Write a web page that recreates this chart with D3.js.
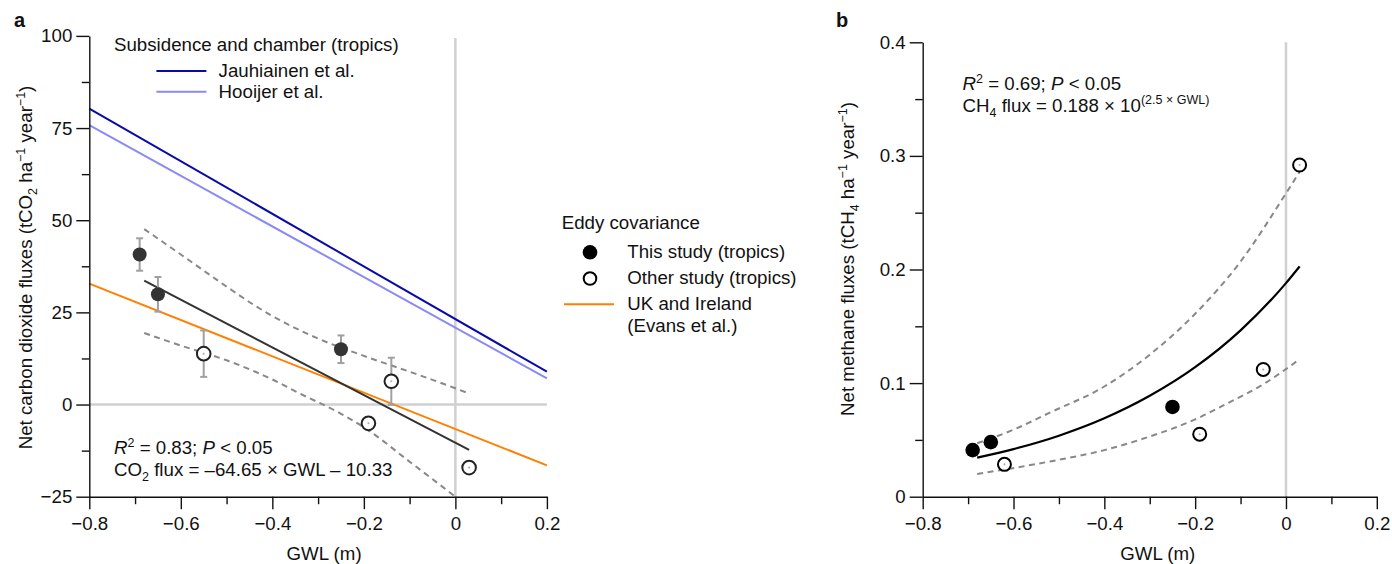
<!DOCTYPE html>
<html>
<head>
<meta charset="utf-8">
<script src="https://cdn.jsdelivr.net/npm/d3@7"></script>
<style>
  body { margin: 0; background: #fff; }
  svg text { font-family: "Liberation Sans", Arial, Helvetica, sans-serif; fill: #111; }
</style>
</head>
<body>
<svg id="chart" width="1392" height="564"></svg>
<script>
// ---- data ----
const gwlTicks = [-0.8, -0.6, -0.4, -0.2, 0, 0.2]
const gwlMinor = [-0.7, -0.5, -0.3, -0.1, 0.1]
const co2Ticks = [-25, 0, 25, 50, 75, 100]
const co2Minor = [-12.5, 12.5, 37.5, 62.5, 87.5]
const ch4Ticks = [0, 0.1, 0.2, 0.3, 0.4]
const ch4Minor = [0.05, 0.15, 0.25, 0.35]

// panel a: eddy covariance points
const co2ThisGwl = [-0.69, -0.65, -0.25]
const co2ThisFlux = [40.7, 29.9, 15.0]
const co2ThisErr = [4.4, 4.7, 3.75]
const co2OtherGwl = [-0.55, -0.14, -0.19, 0.03]
const co2OtherFlux = [13.8, 6.3, -5.1, -17.1]
const co2OtherErr = [6.3, 6.4, 0, 1.3]

// panel a: reference lines (end points at axis limits)
const refGwl = [-0.8, 0.2]
const jauhiainenFlux = [80.3, 8.9]
const hooijerFlux = [75.8, 7.1]
const evansFlux = [32.8, -16.5]

// panel a: regression and confidence band
const co2FitGwl = [-0.68, 0.03]
const co2FitFlux = [33.6, -12.3]
const co2UpperGwl = [-0.68, -0.6, -0.5, -0.44, -0.37, -0.3, -0.2, -0.1, -0.05, 0.03]
const co2UpperFlux = [47.6, 40.7, 32.0, 27.0, 22.0, 17.9, 13.2, 8.9, 6.7, 3.0]
const co2LowerGwl = [-0.68, -0.6, -0.5, -0.4, -0.34, -0.25, -0.19, -0.1, 0.0]
const co2LowerFlux = [19.4, 16.0, 12.0, 6.8, 3.0, -2.5, -7.0, -15.5, -25.0]

// panel b: points
const ch4ThisGwl = [-0.69, -0.65, -0.25]
const ch4ThisFlux = [0.041, 0.048, 0.079]
const ch4OtherGwl = [-0.62, -0.19, -0.05, 0.03]
const ch4OtherFlux = [0.0285, 0.055, 0.112, 0.292]

// panel b: fitted curve and band
const ch4FitGwl = [-0.68, -0.6, -0.5, -0.4, -0.3, -0.2, -0.1, 0, 0.03]
const ch4FitFlux = [0.0344, 0.0419, 0.0537, 0.069, 0.0888, 0.114, 0.1464, 0.188, 0.2027]
const ch4UpperGwl = [-0.68, -0.6, -0.52, -0.4, -0.3, -0.2, -0.1, 0, 0.03]
const ch4UpperFlux = [0.047, 0.059, 0.074, 0.097, 0.125, 0.161, 0.207, 0.267, 0.286]
const ch4LowerGwl = [-0.68, -0.52, -0.4, -0.3, -0.2, -0.13, -0.05, 0.03]
const ch4LowerFlux = [0.020, 0.031, 0.041, 0.053, 0.068, 0.082, 0.099, 0.121]

const zip = (xs, ys, es) => xs.map((x, i) => ({x: x, y: ys[i], e: es ? es[i] : 0}))

const svg = d3.select("#chart")
const FS = 18.7

const fmtGwl = d => d === 0 ? "0" : d3.format(".1f")(d)

// rich text helper: parts = [[text, kind]] kind: sup | sub | i | smallsup
function richText(sel, parts) {
    let shift = 0
    parts.forEach(([t, kind]) => {
        const ts = sel.append("tspan").text(t)
        let target = 0
        if (kind === "sup") target = -7
        if (kind === "smallsup") target = -8
        if (kind === "sub") target = 5
        ts.attr("dy", target - shift)
        shift = target
        if (kind === "sup" || kind === "sub") ts.attr("font-size", 12.5)
        if (kind === "smallsup") ts.attr("font-size", 12.5)
        if (kind === "i") ts.attr("font-style", "italic")
    })
}

function drawAxes(g, x, y, yTicks, yMinor, yFmt) {
    const xAxis = g.append("g").attr("transform", `translate(0,${y.range()[0]})`)
        .call(d3.axisBottom(x).tickValues(gwlTicks).tickSize(12.5).tickSizeOuter(0).tickPadding(8).tickFormat(fmtGwl))
    g.append("g").attr("transform", `translate(0,${y.range()[0]})`)
        .call(d3.axisBottom(x).tickValues(gwlMinor).tickSize(7.5).tickSizeOuter(0).tickFormat(""))
        .select(".domain").remove()
    const yAxis = g.append("g").attr("transform", `translate(${x.range()[0]},0)`)
        .call(d3.axisLeft(y).tickValues(yTicks).tickSize(13).tickSizeOuter(0).tickPadding(4).tickFormat(yFmt))
    g.append("g").attr("transform", `translate(${x.range()[0]},0)`)
        .call(d3.axisLeft(y).tickValues(yMinor).tickSize(7.5).tickSizeOuter(0).tickFormat(""))
        .select(".domain").remove()
    g.selectAll(".domain, .tick line").attr("stroke", "#111").attr("stroke-width", 1.4)
    g.selectAll(".tick text").attr("font-size", FS).attr("fill", "#111")
    xAxis.selectAll(".tick text").attr("dy", "0.71em")
}

// ================= panel a =================
const xa = d3.scaleLinear().domain([-0.8, 0.2]).range([89.3, 546.9])
const ya = d3.scaleLinear().domain([-25, 100]).range([496.7, 35.9])
const ga = svg.append("g")

// zero reference lines
ga.append("line").attr("x1", xa(0)).attr("x2", xa(0)).attr("y1", ya(100) + 2).attr("y2", ya(-25))
    .attr("stroke", "#d0d0d0").attr("stroke-width", 2.5)
ga.append("line").attr("x1", xa(-0.8)).attr("x2", xa(0.2)).attr("y1", ya(0)).attr("y2", ya(0))
    .attr("stroke", "#d0d0d0").attr("stroke-width", 2.5)

const lineA = d3.line().x(d => xa(d.x)).y(d => ya(d.y))
const smoothA = d3.line().x(d => xa(d.x)).y(d => ya(d.y)).curve(d3.curveMonotoneX)

ga.append("path").datum(zip(refGwl, hooijerFlux)).attr("d", lineA)
    .attr("fill", "none").attr("stroke", "#8a8af3").attr("stroke-width", 2)
ga.append("path").datum(zip(refGwl, jauhiainenFlux)).attr("d", lineA)
    .attr("fill", "none").attr("stroke", "#0a0aa8").attr("stroke-width", 2)
ga.append("path").datum(zip(refGwl, evansFlux)).attr("d", lineA)
    .attr("fill", "none").attr("stroke", "#ff8000").attr("stroke-width", 2)

ga.selectAll(".band").data([zip(co2UpperGwl, co2UpperFlux), zip(co2LowerGwl, co2LowerFlux)])
    .join("path").attr("class", "band").attr("d", smoothA)
    .attr("fill", "none").attr("stroke", "#888").attr("stroke-width", 2).attr("stroke-dasharray", "6,4.5")
ga.append("path").datum(zip(co2FitGwl, co2FitFlux)).attr("d", lineA)
    .attr("fill", "none").attr("stroke", "#333").attr("stroke-width", 2)

// error bars
const allCo2 = zip(co2ThisGwl, co2ThisFlux, co2ThisErr).concat(zip(co2OtherGwl, co2OtherFlux, co2OtherErr))
const eb = ga.selectAll(".eb").data(allCo2.filter(d => d.e > 0)).join("g").attr("class", "eb")
    .attr("stroke", "#a0a0a0").attr("stroke-width", 2)
eb.append("line").attr("x1", d => xa(d.x)).attr("x2", d => xa(d.x)).attr("y1", d => ya(d.y + d.e)).attr("y2", d => ya(d.y - d.e))
eb.append("line").attr("x1", d => xa(d.x) - 3.5).attr("x2", d => xa(d.x) + 3.5).attr("y1", d => ya(d.y + d.e)).attr("y2", d => ya(d.y + d.e))
eb.append("line").attr("x1", d => xa(d.x) - 3.5).attr("x2", d => xa(d.x) + 3.5).attr("y1", d => ya(d.y - d.e)).attr("y2", d => ya(d.y - d.e))

ga.selectAll(".pf").data(zip(co2ThisGwl, co2ThisFlux)).join("circle").attr("class", "pf")
    .attr("cx", d => xa(d.x)).attr("cy", d => ya(d.y)).attr("r", 7).attr("fill", "#333")
ga.selectAll(".po").data(zip(co2OtherGwl, co2OtherFlux)).join("circle").attr("class", "po")
    .attr("cx", d => xa(d.x)).attr("cy", d => ya(d.y)).attr("r", 6.8)
    .attr("fill", "#fff").attr("stroke", "#222").attr("stroke-width", 2)
ga.selectAll(".pc").data(zip(co2OtherGwl, co2OtherFlux)).join("circle").attr("class", "pc")
    .attr("cx", d => xa(d.x)).attr("cy", d => ya(d.y)).attr("r", 1).attr("fill", "#aaa")

drawAxes(ga, xa, ya, co2Ticks, co2Minor, d3.format("d"))

ga.append("text").attr("x", 14).attr("y", 27).attr("font-size", 20).attr("font-weight", "bold").text("a")
ga.append("text").attr("x", (xa(-0.8) + xa(0.2)) / 2 + 6).attr("y", 560).attr("text-anchor", "middle")
    .attr("font-size", FS).text("GWL (m)")
richText(ga.append("text").attr("transform", "translate(32,267.5) rotate(-90)").attr("text-anchor", "middle").attr("font-size", FS),
    [["Net carbon dioxide fluxes (tCO"], ["2", "sub"], [" ha"], ["−1", "sup"], [" year"], ["−1", "sup"], [")"]])

// legend: chamber
ga.append("text").attr("x", 114).attr("y", 50.5).attr("font-size", FS).text("Subsidence and chamber (tropics)")
const legA = [["Jauhiainen et al.", "#0a0aa8", 71], ["Hooijer et al.", "#8a8af3", 91.7]]
legA.forEach(([lab, col, yy]) => {
    ga.append("line").attr("x1", 156.4).attr("x2", 206.4).attr("y1", yy).attr("y2", yy).attr("stroke", col).attr("stroke-width", 2)
    ga.append("text").attr("x", 218.6).attr("y", yy + 6).attr("font-size", FS).text(lab)
})

// stats a
richText(ga.append("text").attr("x", 114).attr("y", 454).attr("font-size", FS),
    [["R", "i"], ["2", "sup"], [" = 0.83; "], ["P", "i"], [" < 0.05"]])
richText(ga.append("text").attr("x", 114).attr("y", 476).attr("font-size", FS),
    [["CO"], ["2", "sub"], [" flux = –64.65 × GWL – 10.33"]])

// legend: eddy covariance
const gl = svg.append("g")
gl.append("text").attr("x", 561.7).attr("y", 229).attr("font-size", FS).text("Eddy covariance")
gl.append("circle").attr("cx", 590).attr("cy", 252.3).attr("r", 7.3).attr("fill", "#000")
gl.append("text").attr("x", 627.3).attr("y", 258).attr("font-size", FS).text("This study (tropics)")
gl.append("circle").attr("cx", 590).attr("cy", 278.5).attr("r", 6.3).attr("fill", "#fff").attr("stroke", "#000").attr("stroke-width", 2)
gl.append("text").attr("x", 627.3).attr("y", 284).attr("font-size", FS).text("Other study (tropics)")
gl.append("line").attr("x1", 564).attr("x2", 614).attr("y1", 304.3).attr("y2", 304.3).attr("stroke", "#ff8000").attr("stroke-width", 2)
gl.append("text").attr("x", 627.3).attr("y", 310).attr("font-size", FS).text("UK and Ireland")
gl.append("text").attr("x", 627.3).attr("y", 332).attr("font-size", FS).text("(Evans et al.)")

// ================= panel b =================
const xb = d3.scaleLinear().domain([-0.8, 0.2]).range([922.7, 1376.8])
const yb = d3.scaleLinear().domain([0, 0.4]).range([496.7, 42.3])
const gb = svg.append("g")

gb.append("line").attr("x1", xb(0)).attr("x2", xb(0)).attr("y1", yb(0.4)).attr("y2", yb(0))
    .attr("stroke", "#d0d0d0").attr("stroke-width", 2.5)

const smoothB = d3.line().x(d => xb(d.x)).y(d => yb(d.y)).curve(d3.curveMonotoneX)
gb.selectAll(".band").data([zip(ch4UpperGwl, ch4UpperFlux), zip(ch4LowerGwl, ch4LowerFlux)])
    .join("path").attr("class", "band").attr("d", smoothB)
    .attr("fill", "none").attr("stroke", "#888").attr("stroke-width", 2).attr("stroke-dasharray", "6,4.5")
gb.append("path").datum(zip(ch4FitGwl, ch4FitFlux)).attr("d", smoothB)
    .attr("fill", "none").attr("stroke", "#000").attr("stroke-width", 2.2)

gb.selectAll(".pf").data(zip(ch4ThisGwl, ch4ThisFlux)).join("circle").attr("class", "pf")
    .attr("cx", d => xb(d.x)).attr("cy", d => yb(d.y)).attr("r", 7.3).attr("fill", "#000")
gb.selectAll(".po").data(zip(ch4OtherGwl, ch4OtherFlux)).join("circle").attr("class", "po")
    .attr("cx", d => xb(d.x)).attr("cy", d => yb(d.y)).attr("r", 6.5)
    .attr("fill", "#fff").attr("stroke", "#000").attr("stroke-width", 2)
gb.selectAll(".pc").data(zip(ch4OtherGwl, ch4OtherFlux)).join("circle").attr("class", "pc")
    .attr("cx", d => xb(d.x)).attr("cy", d => yb(d.y)).attr("r", 1).attr("fill", "#aaa")

drawAxes(gb, xb, yb, ch4Ticks, ch4Minor, d => d === 0 ? "0" : d3.format(".1f")(d))

gb.append("text").attr("x", 836).attr("y", 27).attr("font-size", 20).attr("font-weight", "bold").text("b")
gb.append("text").attr("x", (xb(-0.8) + xb(0.2)) / 2 + 8).attr("y", 560).attr("text-anchor", "middle")
    .attr("font-size", FS).text("GWL (m)")
richText(gb.append("text").attr("transform", "translate(854,259) rotate(-90)").attr("text-anchor", "middle").attr("font-size", FS),
    [["Net methane fluxes (tCH"], ["4", "sub"], [" ha"], ["−1", "sup"], [" year"], ["−1", "sup"], [")"]])

richText(gb.append("text").attr("x", 962.5).attr("y", 89.5).attr("font-size", FS),
    [["R", "i"], ["2", "sup"], [" = 0.69; "], ["P", "i"], [" < 0.05"]])
richText(gb.append("text").attr("x", 962.5).attr("y", 111.5).attr("font-size", FS),
    [["CH"], ["4", "sub"], [" flux = 0.188 × 10"], ["(2.5 × GWL)", "smallsup"]])
</script>
</body>
</html>
